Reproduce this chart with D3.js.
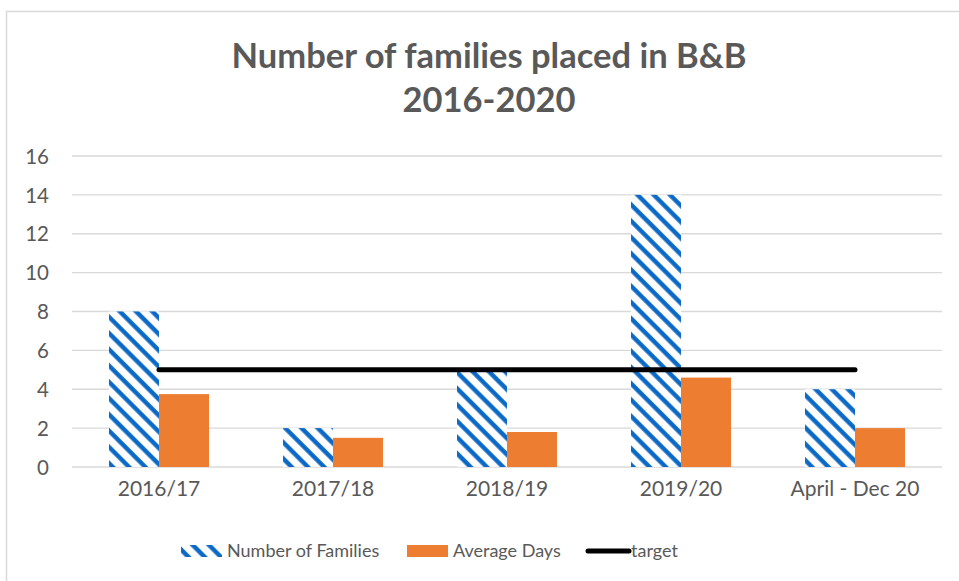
<!DOCTYPE html>
<html><head><meta charset="utf-8">
<script src="https://cdn.jsdelivr.net/npm/d3@7"></script>
<style>body{margin:0;background:#fff;}</style>
</head><body>
<svg id="c" width="959" height="581"></svg>
<script>
const categories = ["2016/17","2017/18","2018/19","2019/20","April - Dec 20"];
const families = [8, 2, 5, 14, 4];
const avgDays = [3.75, 1.5, 1.8, 4.6, 2];
const target = [5, 5, 5, 5, 5];
const yTicks = [0,2,4,6,8,10,12,14,16];
const seriesNames = ["Number of Families","Average Days","target"];

const svg = d3.select("#c");
const textCol = "#595959";
const font = "Lato, 'Open Sans', sans-serif";

// border
svg.append("rect").attr("x",6.5).attr("y",11.5).attr("width",1000).attr("height",620)
  .attr("fill","none").attr("stroke","#d9d9d9").attr("stroke-width",1.5);

const defs = svg.append("defs");
const pat = defs.append("pattern").attr("id","hatch").attr("patternUnits","userSpaceOnUse")
  .attr("width",11.5).attr("height",11.5).attr("patternTransform","rotate(-45)");
pat.append("rect").attr("width",11.5).attr("height",11.5).attr("fill","#fff");
pat.append("line").attr("x1",2.5).attr("y1",0).attr("x2",2.5).attr("y2",11.5)
  .attr("stroke","#0a68c6").attr("stroke-width",4.4);

const x = d3.scaleBand().domain(categories).range([72,942]).paddingInner(0).paddingOuter(0);
const y = d3.scaleLinear().domain([0,16]).range([467,156]);
const bw = 50;

// gridlines
svg.append("g").selectAll("line").data(yTicks).join("line")
  .attr("x1",72).attr("x2",942).attr("y1",d=>y(d)).attr("y2",d=>y(d))
  .attr("stroke","#d9d9d9").attr("stroke-width",1.3);

// y axis labels
const yAxis = d3.axisLeft(y).tickValues(yTicks).tickSize(0).tickPadding(0);
const gy = svg.append("g").attr("transform","translate(49,0)").call(yAxis);
gy.select(".domain").remove();
gy.selectAll("text").attr("fill",textCol).style("font-family",font).style("font-size","20.5px")
  .attr("text-anchor","end").attr("dy","0.35em");

// x axis labels
const xAxis = d3.axisBottom(x).tickSize(0).tickPadding(0);
const gx = svg.append("g").attr("transform","translate(0,489)").call(xAxis);
gx.select(".domain").remove();
gx.selectAll("text").attr("fill",textCol).style("font-family",font).style("font-size","21px")
  .attr("dy","0.35em");

// bars
const cx = d => x(d) + x.bandwidth()/2;
svg.append("g").selectAll("rect").data(categories).join("rect")
  .attr("x",d=>cx(d)-bw).attr("width",bw)
  .attr("y",(d,i)=>y(families[i])).attr("height",(d,i)=>y(0)-y(families[i]))
  .attr("fill","url(#hatch)");
svg.append("g").selectAll("rect").data(categories).join("rect")
  .attr("x",d=>cx(d)).attr("width",bw)
  .attr("y",(d,i)=>y(avgDays[i])).attr("height",(d,i)=>y(0)-y(avgDays[i]))
  .attr("fill","#ed7d31");

// target line
svg.append("path").datum(categories)
  .attr("d", d3.line().x(d=>cx(d)).y((d,i)=>y(target[i])))
  .attr("fill","none").attr("stroke","#000").attr("stroke-width",5).attr("stroke-linecap","round");

// title
const title = svg.append("text").attr("x",489).attr("text-anchor","middle")
  .attr("fill",textCol).style("font-family",font).style("font-weight","bold").style("font-size","34.5px");
title.append("tspan").attr("x",489).attr("y",68).text("Number of families placed in B&B");
title.append("tspan").attr("x",489).attr("y",112).text("2016-2020");

// legend
const lg = svg.append("g").attr("transform","translate(0,551)");
lg.append("rect").attr("x",181).attr("y",-6).attr("width",41).attr("height",12).attr("fill","url(#hatch)");
lg.append("text").attr("x",227).attr("y",0).attr("dy","0.35em").text(seriesNames[0]);
lg.append("rect").attr("x",407).attr("y",-6).attr("width",41).attr("height",12).attr("fill","#ed7d31");
lg.append("text").attr("x",453).attr("y",0).attr("dy","0.35em").text(seriesNames[1]);
lg.append("line").attr("x1",588).attr("x2",629).attr("y1",0).attr("y2",0)
  .attr("stroke","#000").attr("stroke-width",5).attr("stroke-linecap","round");
lg.append("text").attr("x",631).attr("y",0).attr("dy","0.35em").text(seriesNames[2]);
lg.selectAll("text").attr("fill",textCol).style("font-family",font).style("font-size","18px");
</script>
</body></html>
